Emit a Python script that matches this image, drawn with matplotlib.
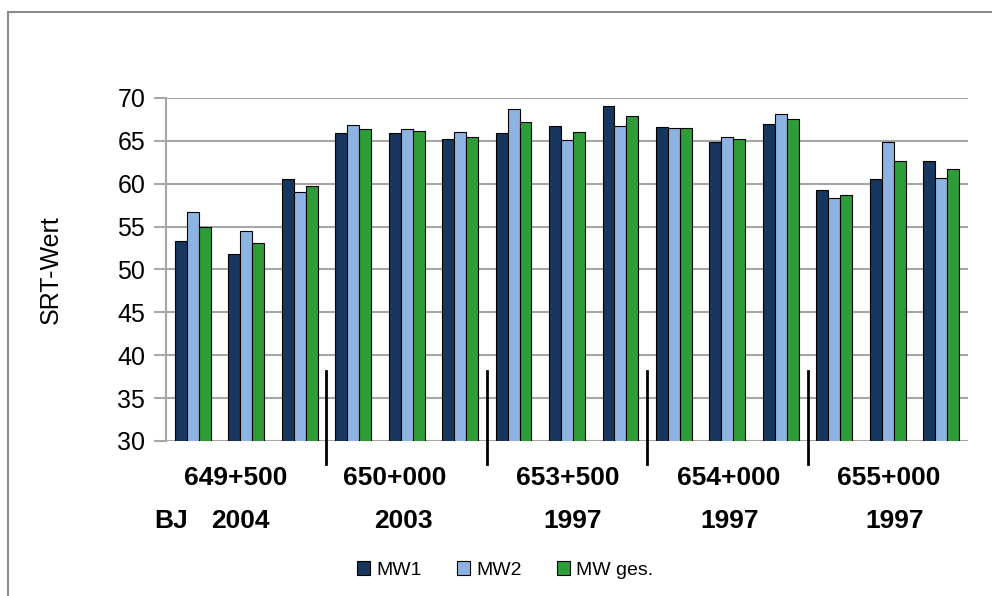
"""
SRT-Werte je Messstelle (MW1, MW2, MW ges.)
"""

import numpy as np
import matplotlib.pyplot as plt
from matplotlib.patches import Rectangle

plt.rcParams['font.family'] = ['Liberation Sans', 'DejaVu Sans']

# %% Data
mw1 = [53.3, 51.8, 60.5, 65.9, 65.9, 65.2, 65.9, 66.7, 69.1, 66.6, 64.9, 67.0, 59.3, 60.5, 62.7]
mw2 = [56.7, 54.5, 59.0, 66.9, 66.4, 66.0, 68.7, 65.1, 66.7, 66.5, 65.4, 68.1, 58.3, 64.9, 60.7]
mw_ges = [54.9, 53.1, 59.7, 66.4, 66.1, 65.5, 67.2, 66.0, 67.9, 66.5, 65.2, 67.6, 58.7, 62.7, 61.7]

sections = ['649+500', '650+000', '653+500', '654+000', '655+000']
years = ['2004', '2003', '1997', '1997', '1997']

c_mw1 = '#17375E'
c_mw2 = '#8DB3E2'
c_ges = '#2E9C37'

# %% Plot
W, H = 992, 596
fig = plt.figure(figsize=(W / 100, H / 100), dpi=100)
ax = fig.add_axes([166 / W, 1 - 441 / H, (968 - 166) / W, (441 - 98) / H])

x = np.arange(len(mw1))
w = 0.224
kw = dict(width=w, edgecolor='black', linewidth=0.8, zorder=3)
ax.bar(x - w, mw1, color=c_mw1, label='MW1', **kw)
ax.bar(x, mw2, color=c_mw2, label='MW2', **kw)
ax.bar(x + w, mw_ges, color=c_ges, label='MW ges.', **kw)

ax.set_xlim(-0.5, len(mw1) - 0.5)
ax.set_ylim(30, 70)
ax.set_yticks(np.arange(30, 71, 5))
ax.yaxis.grid(True, color='#a6a6a6', linewidth=1.5, zorder=0)
ax.set_xticks([])
for s in ['top', 'right', 'bottom']:
    ax.spines[s].set_visible(False)
ax.spines['left'].set_color('#a6a6a6')
ax.spines['left'].set_linewidth(1.5)
ax.tick_params(axis='y', length=9, width=1.5, color='#a6a6a6', labelsize=18, pad=6)
ax.set_ylabel('SRT-Wert', fontsize=18, labelpad=39)

# section separators below the axis
for xs in [2.5, 5.5, 8.5, 11.5]:
    ax.plot([xs, xs], [38.2, 27.3], color='black', linewidth=2, clip_on=False, zorder=4)

# section labels and build years (y in figure coords, x in data coords)
trans = ax.get_xaxis_transform()
blend = plt.matplotlib.transforms.blended_transform_factory(ax.transData, fig.transFigure)
sec_x = [0.8, 3.78, 7.02, 10.02, 13.02]
year_x = [0.9, 3.95, 7.1, 10.05, 13.12]
for xs, lab in zip(sec_x, sections):
    ax.text(xs, 1 - 478 / H, lab, transform=blend, fontsize=19, fontweight='bold',
            ha='center', va='center', clip_on=False)
for xs, yr in zip(year_x, years):
    ax.text(xs, 1 - 521 / H, yr, transform=blend, fontsize=19, fontweight='bold',
            ha='center', va='center', clip_on=False)
fig.text(171 / W, 1 - 521 / H, 'BJ', fontsize=19, fontweight='bold', ha='center', va='center')

# legend
fig.legend(loc='center', bbox_to_anchor=(505 / W, 1 - 570 / H), ncol=3, frameon=False,
           fontsize=14, handlelength=0.7, handleheight=0.7, handletextpad=0.3,
           columnspacing=1.8)

# outer chart border
fig.patches.append(Rectangle((8 / W, -0.2), 1.2, 1.2 - 12 / H, transform=fig.transFigure,
                             fill=False, edgecolor='#8c8c8c', linewidth=1.5))

plt.savefig('out.png', dpi=100)
